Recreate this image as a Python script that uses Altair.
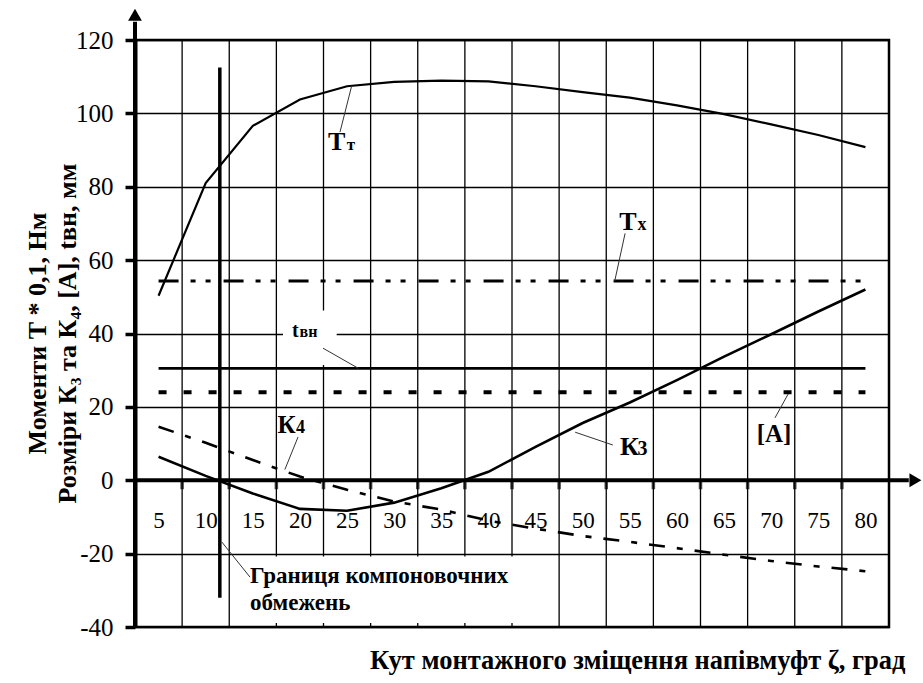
import altair as alt
import pandas as pd

# Mounting offset angle of the coupling halves, degrees
angles = [5, 10, 15, 20, 25, 30, 35, 40, 45, 50, 55, 60, 65, 70, 75, 80]

# Transmitted torque Tт (x 0.1), N·m
torque_t = [50.3, 81.0, 96.6, 103.8, 107.4, 108.6, 108.9, 108.7,
            107.4, 105.8, 104.3, 102.2, 99.8, 97.0, 94.1, 90.8]
# Dimensions K3 and K4, mm
size_k3 = [6.4, 1.2, -3.6, -7.8, -8.3, -6.1, -2.2, 2.3,
           9.1, 15.6, 21.2, 27.3, 33.7, 39.8, 46.0, 52.0]
size_k4 = [14.6, 10.2, 5.5, 1.0, -2.6, -5.8, -8.0, -11.0,
           -13.2, -15.2, -16.8, -18.5, -20.3, -22.0, -23.5, -24.8]

# Constant levels
level_span = [5, 80]
torque_x = 54.3      # Tх
t_vn = 30.5          # tвн
allowed_a = 24.0     # [A]

# Layout limit line
boundary_angle = 11.5
boundary_low, boundary_high = -32.0, 112.5

# Axes
x_domain = [2.5, 82.5]
y_domain = [-40, 120]
y_ticks = [-40, -20, 0, 20, 40, 60, 80, 100, 120]
grid_x = [7.5, 12.5, 17.5, 22.5, 27.5, 32.5, 37.5, 42.5, 47.5,
          52.5, 57.5, 62.5, 67.5, 72.5, 77.5]

FONT = "Liberation Serif"
xs = alt.Scale(domain=x_domain, nice=False, zero=False)
ys = alt.Scale(domain=y_domain, nice=False, zero=False)

x_axis = alt.Axis(
    values=angles, grid=False, domain=False, ticks=False, tickSize=0,
    labelFont=FONT, labelFontSize=23, labelColor="black", labelPadding=29,
    labelFlush=False, labelOverlap=False, offset=-146.75, zindex=1,
    title="Кут монтажного зміщення напівмуфт ζ, град",
    titleFont=FONT, titleFontSize=26.5, titleFontWeight="bold", titleColor="black",
    titleAlign="right", titleBaseline="alphabetic", titleX=770, titleY=188,
)

y_axis = alt.Axis(
    values=y_ticks, grid=True, gridColor="black", gridWidth=1.3, gridOpacity=1,
    domain=True, domainColor="black", domainWidth=4,
    ticks=True, tickColor="black", tickWidth=3.5, tickSize=10,
    labelFont=FONT, labelFontSize=25, labelColor="black", labelPadding=12,
    labelExpr="'' + datum.value",
    title=["Моменти Т * 0,1, Нм", "Розміри К₃ та К₄, [A], tвн, мм"],
    titleFont=FONT, titleFontSize=26, titleFontWeight="bold", titleColor="black",
    titleAngle=270, titleAlign="center", titleBaseline="middle",
    titleLineHeight=30, titleX=-98, titleY=293,
)


def X(field="deg"):
    return alt.X(f"{field}:Q", scale=xs, axis=x_axis)


def Y(field):
    return alt.Y(f"{field}:Q", scale=ys, axis=y_axis)


curves = pd.DataFrame({"deg": angles, "tt": torque_t, "k3": size_k3, "k4": size_k4})
levels = pd.DataFrame({
    "deg": level_span,
    "tx": [torque_x, torque_x],
    "tvn": [t_vn, t_vn],
    "a": [allowed_a, allowed_a],
})
grid_df = pd.DataFrame({"deg": grid_x, "zero": [0] * len(grid_x)})

# Vertical grid lines
grid = alt.Chart(grid_df).mark_rule(color="black", strokeWidth=1.3).encode(
    x=X("deg")
)

# Text background boxes (cover the grid under the labels)
boxes_df = pd.DataFrame({
    "x1": [18.2, 13.2], "x2": [23.9, 45.5],
    "y1": [31.4, -38.9], "y2": [46.3, -20.8],
})
boxes = alt.Chart(boxes_df).mark_rect(color="white").encode(
    x=X("x1"), x2="x2", y=Y("y1"), y2="y2"
)

# Small tick marks below the zero line
zero_ticks = alt.Chart(grid_df).mark_tick(
    orient="vertical", color="black", size=9, thickness=3.5, yOffset=4.5
).encode(x=X("deg"), y=Y("zero"))

# Axis lines with arrows
axis_lines_df = pd.DataFrame({
    "x1": [2.5, 2.5], "x2": [84.6, 2.5], "y1": [0, -40], "y2": [0, 125.0],
})
axis_lines = alt.Chart(axis_lines_df).mark_rule(color="black", strokeWidth=4).encode(
    x=X("x1"), x2="x2", y=Y("y1"), y2="y2"
)
arrows_df = pd.DataFrame({
    "deg": [85.3, 2.5], "val": [0, 126.9],
    "shape": ["triangle-right", "triangle-up"],
})
arrows = alt.Chart(arrows_df).mark_point(
    filled=True, color="black", opacity=1, size=190
).encode(x=X("deg"), y=Y("val"), shape=alt.Shape("shape:N", scale=None))

# Layout limit line
boundary_df = pd.DataFrame({"deg": [boundary_angle], "lo": [boundary_low], "hi": [boundary_high]})
boundary = alt.Chart(boundary_df).mark_rule(color="black", strokeWidth=3.5).encode(
    x=X("deg"), y=Y("lo"), y2="hi"
)

tt_line = alt.Chart(curves).mark_line(color="black", strokeWidth=2.2).encode(
    x=X("deg"), y=Y("tt")
)
k3_line = alt.Chart(curves).mark_line(color="black", strokeWidth=2.6).encode(
    x=X("deg"), y=Y("k3")
)
k4_line = alt.Chart(curves).mark_line(
    color="black", strokeWidth=2.6, strokeDash=[16, 12, 6, 12]
).encode(x=X("deg"), y=Y("k4"))
tx_line = alt.Chart(levels).mark_line(
    color="black", strokeWidth=3, strokeDash=[20, 12, 5, 10, 5, 13]
).encode(x=X("deg"), y=Y("tx"))
tvn_line = alt.Chart(levels).mark_line(color="black", strokeWidth=2.6).encode(
    x=X("deg"), y=Y("tvn")
)
a_line = alt.Chart(levels).mark_line(
    color="black", strokeWidth=4, strokeDash=[8, 17]
).encode(x=X("deg"), y=Y("a"))

# Leader lines from labels to curves
leaders_df = pd.DataFrame({
    "x1": [25.5, 54.5, 22.45, 19.8, 53.2, 70.4, 11.7],
    "y1": [107.6, 67.3, 36.0, 11.8, 9.6, 17.0, -16.8],
    "x2": [24.25, 53.4, 26.2, 18.4, 49.2, 71.8, 14.7],
    "y2": [94.9, 54.3, 30.5, 2.9, 13.1, 23.5, -26.4],
})
leaders = alt.Chart(leaders_df).mark_rule(color="#333333", strokeWidth=1).encode(
    x=X("x1"), x2="x2", y=Y("y1"), y2="y2"
)

# Curve labels: main letters and their small indices
main_df = pd.DataFrame({
    "text": ["Т", "Т", "t", "К", "К", "[A]"],
    "deg": [23.9, 54.8, 19.5, 18.57, 54.96, 70.3],
    "val": [90.0, 68.2, 39.0, 12.9, 6.9, 10.4],
    "fs": [26, 26, 20, 25, 26, 25],
})
main_labels = alt.Chart(main_df).mark_text(
    font=FONT, fontWeight="bold", color="black", align="center", baseline="alphabetic"
).encode(x=X("deg"), y=Y("val"), text="text:N", size=alt.Size("fs:Q", scale=None))

sub_df = pd.DataFrame({
    "text": ["т", "х", "вн", "4", "3"],
    "deg": [25.4, 56.3, 20.9, 20.06, 56.34],
    "val": [90.0, 68.2, 39.0, 12.9, 6.9],
    "fs": [17, 18, 16, 18, 20],
})
sub_labels = alt.Chart(sub_df).mark_text(
    font=FONT, fontWeight="bold", color="black", align="center", baseline="alphabetic"
).encode(x=X("deg"), y=Y("val"), text="text:N", size=alt.Size("fs:Q", scale=None))

note_df = pd.DataFrame({
    "text": ["Границя компоновочних", "обмежень"],
    "deg": [14.7, 14.7],
    "val": [-28.0, -35.4],
})
note = alt.Chart(note_df).mark_text(
    font=FONT, fontWeight="bold", fontSize=23, color="black",
    align="left", baseline="alphabetic"
).encode(x=X("deg"), y=Y("val"), text="text:N")

chart = alt.layer(
    grid, boxes, zero_ticks, tt_line, tx_line, tvn_line, a_line, k4_line, k3_line,
    axis_lines, arrows, boundary, leaders, main_labels, sub_labels, note,
).properties(
    width=754, height=587,
    autosize=alt.AutoSizeParams(type="none"),
    padding={"left": 135, "top": 40, "right": 34, "bottom": 56},
).configure(background="white").configure_view(stroke="black", strokeWidth=2.5)

chart.save("out.html", embed_options={"renderer": "svg", "actions": False})
